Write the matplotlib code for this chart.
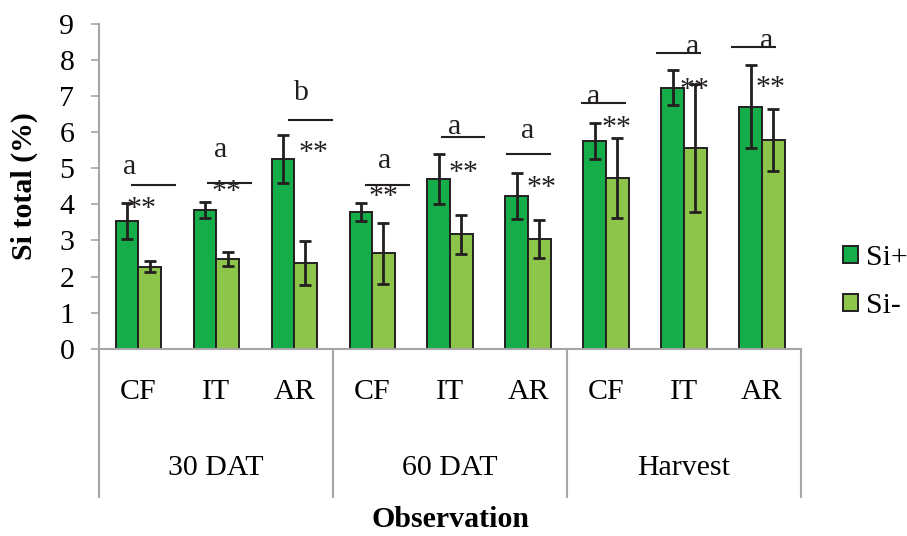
import matplotlib
matplotlib.use("Agg")
import matplotlib.pyplot as plt
import matplotlib.transforms as mtransforms
from matplotlib.patches import Patch
import numpy as np

# Treatments within each observation period
treatments = ["CF", "IT", "AR"]
periods = ["30 DAT", "60 DAT", "Harvest"]

# Mean Si total (%) and error for each treatment x period
si_plus = [3.55, 3.84, 5.25, 3.79, 4.70, 4.24, 5.76, 7.24, 6.71]
si_plus_err = [0.50, 0.23, 0.66, 0.25, 0.70, 0.64, 0.51, 0.48, 1.16]
si_minus = [2.27, 2.48, 2.38, 2.64, 3.17, 3.05, 4.73, 5.57, 5.78]
si_minus_err = [0.15, 0.19, 0.60, 0.85, 0.54, 0.53, 1.12, 1.77, 0.86]

# Significance letters per treatment
letters = ["a", "a", "b", "a", "a", "a", "a", "a", "a"]
stars = ["**"] * 9

# Annotation layout (category units / data units)
letter_x = [-0.115, 1.056, 2.095, 3.163, 4.06, 4.992, 5.842, 7.115, 8.056]
letter_y = [5.04, 5.51, 7.17, 5.21, 6.13, 6.04, 6.97, 8.37, 8.52]
line_x0 = [-0.085, 0.897, 1.936, 2.919, 3.89, 4.731, 5.697, 6.659, 7.615]
line_y = [4.53, 4.58, 6.33, 4.53, 5.87, 5.40, 6.82, 8.19, 8.36]
star_x = [0.044, 1.133, 2.244, 3.141, 4.176, 5.172, 6.141, 7.137, 8.112]
star_y = [4.12, 4.60, 5.69, 4.45, 5.14, 4.72, 6.36, 7.42, 7.47]

FS = 21.5
plt.rcParams["font.family"] = ["Liberation Serif", "DejaVu Serif"]
plt.rcParams["font.size"] = FS

c_plus = "#14AD4A"
c_minus = "#8DC54A"
grey = "#A6A6A6"
ink = "#231F20"

fig = plt.figure(figsize=(9.07, 5.36), dpi=100)
ax = fig.add_axes([0.1095, 0.3494, 0.7735, 0.6058])

n = len(si_plus)
x = np.arange(n)
w = 0.29
err_kw = dict(ecolor=ink, elinewidth=2.0, capsize=4.5, capthick=2.0)
ax.bar(x - w / 2, si_plus, w, color=c_plus, edgecolor=ink, linewidth=1.4,
       yerr=si_plus_err, error_kw=err_kw, label="Si+", zorder=2)
ax.bar(x + w / 2, si_minus, w, color=c_minus, edgecolor=ink, linewidth=1.4,
       yerr=si_minus_err, error_kw=err_kw, label="Si-", zorder=2)

ax.set_xlim(-0.5, n - 0.5)
ax.set_ylim(0, 9)
ax.set_yticks(range(0, 10))
ax.tick_params(axis="y", direction="out", length=6, width=1.2, color=grey,
               pad=12, labelsize=FS)
ax.set_xticks([])
for s in ["top", "right"]:
    ax.spines[s].set_visible(False)
for s in ["left", "bottom"]:
    ax.spines[s].set_color(grey)
    ax.spines[s].set_linewidth(1.5)

# Letters, bracket lines and significance stars
line_len = 0.55
for i in range(n):
    ax.text(letter_x[i], letter_y[i] - (0.29 if letters[i] == "b" else 0.19),
            letters[i], ha="center", va="baseline", fontsize=FS, color=ink)
    ax.plot([line_x0[i], line_x0[i] + line_len], [line_y[i], line_y[i]],
            color=ink, lw=1.5, zorder=3)
    ax.text(star_x[i], star_y[i] - 0.45, stars[i], ha="center", va="baseline",
            fontsize=FS, color=ink)

# Two-level category axis
trans = mtransforms.blended_transform_factory(ax.transData, ax.transAxes)
for i, t in enumerate(treatments * len(periods)):
    ax.text(i, -0.133, t, transform=trans, ha="center", va="center", fontsize=FS)
for g, p in enumerate(periods):
    ax.text(g * 3 + 1, -0.367, p, transform=trans, ha="center", va="center",
            fontsize=FS)
for b in [-0.5, 2.5, 5.5, 8.5]:
    ax.plot([b, b], [0, -0.457], transform=trans, color=grey, lw=1.5,
            clip_on=False)

ax.set_ylabel("Si total (%)", fontsize=FS, fontweight="bold")
ax.yaxis.set_label_coords(-0.087, 0.5)
ax.text(0.5, -0.527, "Observation", transform=ax.transAxes, ha="center",
        va="center", fontsize=FS, fontweight="bold")

handles = [Patch(facecolor=c_plus, edgecolor=ink, linewidth=1.4),
           Patch(facecolor=c_minus, edgecolor=ink, linewidth=1.4)]
fig.legend(handles, ["Si+", "Si-"], loc="center left",
           bbox_to_anchor=(0.929, 1 - 282 / 536), frameon=False, fontsize=FS,
           handlelength=0.5, handleheight=0.5, handletextpad=0.3,
           labelspacing=0.75, borderaxespad=0, borderpad=0)

fig.savefig("out.png", dpi=100)
